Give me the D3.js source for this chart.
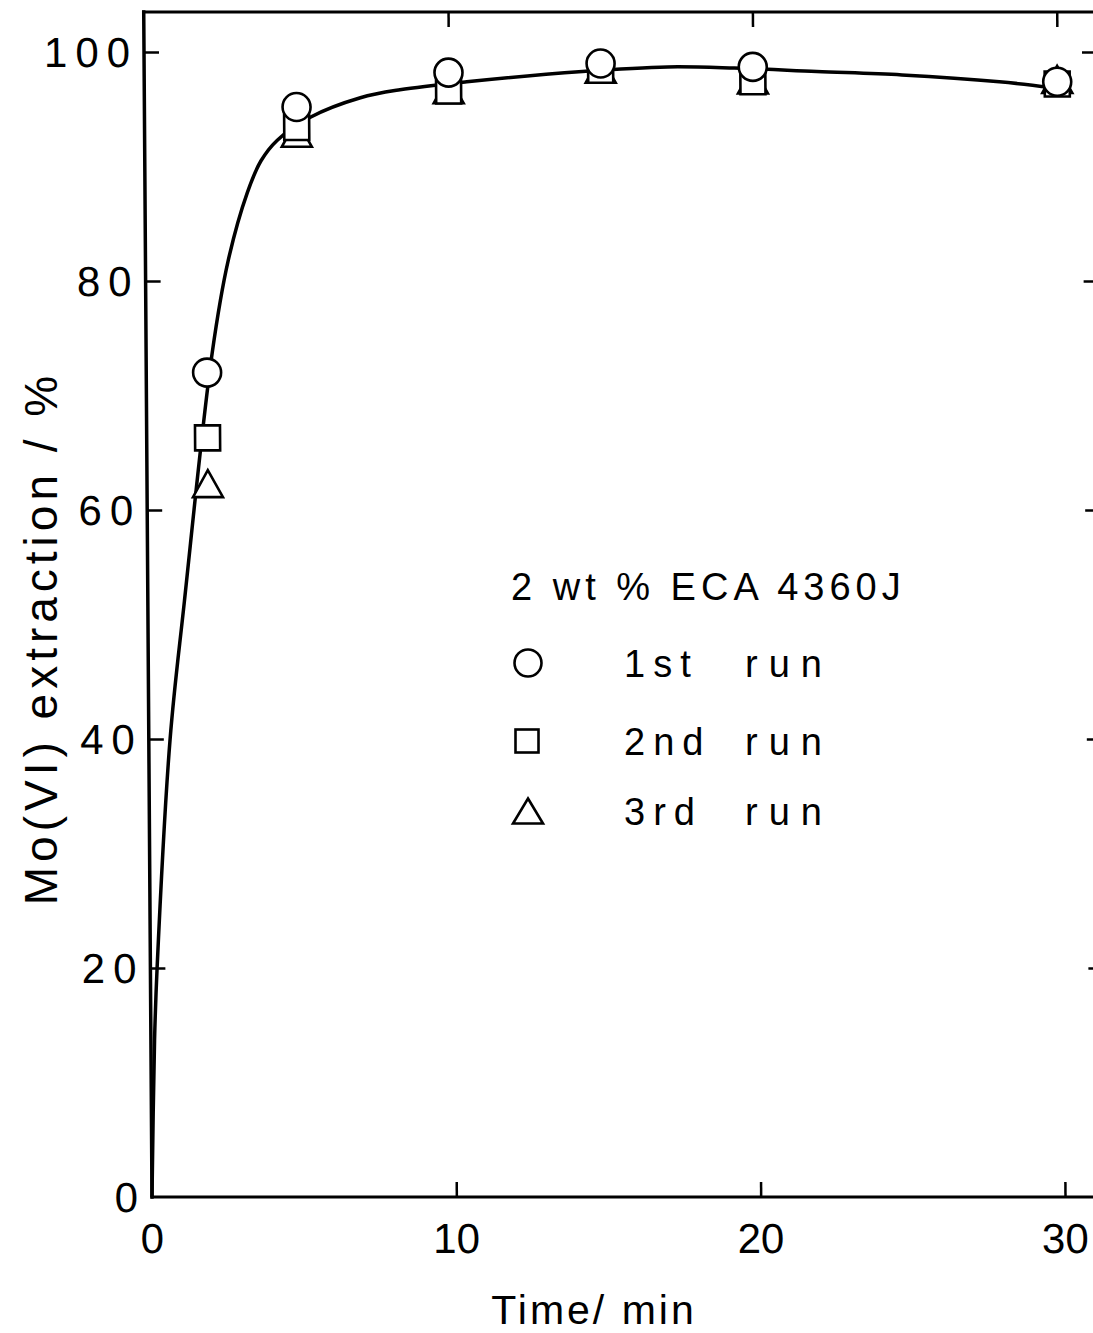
<!DOCTYPE html>
<html>
<head>
<meta charset="utf-8">
<script src="https://cdn.jsdelivr.net/npm/d3@7"></script>
<style>
  html, body { margin: 0; padding: 0; background: #fff; }
  svg { display: block; }
</style>
</head>
<body>
<script>
// Sampling times (min) and Mo(VI) extraction (%) for the three runs
const times = [2, 5, 10, 15, 20, 30];
const run1 = [72.0, 95.2, 98.2, 99.0, 98.7, 97.4];
const run2 = [66.3, 93.4, 96.6, 98.4, 97.4, 97.2];
const run3 = [62.3, 92.9, 96.7, 98.5, 97.55, 97.6];

// Hand-drawn kinetic curve through the data
const fitTimes  = [0, 0.12, 0.22, 0.70, 1.20, 2.17, 2.72, 3.36, 3.82, 4.36, 5.45, 7.1, 8.4, 10.6, 14.4, 17.2, 19.4, 22.1, 24.9, 28.1, 29.8];
const fitValues = [0, 13.7, 20.0, 40.0, 52.0, 73.7, 81.8, 87.7, 90.5, 92.3, 94.3, 96.0, 96.7, 97.4, 98.3, 98.7, 98.6, 98.3, 98.0, 97.4, 96.9];

const xTicks = [0, 10, 20, 30];
const yTicks = [0, 20, 40, 60, 80, 100];

const legendTitle = "2 wt % ECA 4360J";
const runOrdinals = ["1st", "2nd", "3rd"];
const runWord = "run";
const xTitle = "Time/ min";
const yTitle = "Mo(VI)  extraction / %";

const W = 1093, H = 1333;
const FONT = "'Liberation Sans', Arial, sans-serif";

const svg = d3.select("body").append("svg")
  .attr("width", W).attr("height", H)
  .attr("viewBox", `0 0 ${W} ${H}`);

svg.append("rect").attr("width", W).attr("height", H).attr("fill", "#fff");

const x = d3.scaleLinear().domain([0, 30]).range([152, 1065]);
const y = d3.scaleLinear().domain([0, 100]).range([1197, 52]);
const frameRight = 1112, frameTop = 12;

// plotting area, slightly sheared like the printed figure
const plot = svg.append("g")
  .attr("transform", `translate(0,${y(0)}) skewX(0.4) translate(0,${-y(0)})`);

const tickLen = 15;
const axisStroke = 3;

function styleAxis(g) {
  g.select(".domain").remove();
  g.selectAll(".tick line").attr("stroke", "#000").attr("stroke-width", 2.5);
}

// frame lines
const frame = [
  [x(0), y(0), frameRight, y(0)],
  [x(0), frameTop, frameRight, frameTop],
  [x(0), frameTop, x(0), y(0)],
  [frameRight, frameTop, frameRight, y(0)]
];
plot.append("g").selectAll("line").data(frame).join("line")
  .attr("x1", d => d[0]).attr("y1", d => d[1]).attr("x2", d => d[2]).attr("y2", d => d[3])
  .attr("stroke", "#000").attr("stroke-width", (d, i) => i === 2 ? axisStroke + 0.5 : axisStroke)
  .attr("stroke-linecap", "square");

// inward ticks on all four sides
plot.append("g")
  .attr("transform", `translate(0,${y(0)})`)
  .call(d3.axisBottom(x).tickValues(xTicks.filter(d => d > 0)).tickSizeInner(-tickLen).tickSizeOuter(0).tickFormat(""))
  .call(styleAxis);
plot.append("g")
  .attr("transform", `translate(0,${frameTop})`)
  .call(d3.axisTop(x).tickValues(xTicks.filter(d => d > 0)).tickSizeInner(-tickLen).tickSizeOuter(0).tickFormat(""))
  .call(styleAxis);
plot.append("g")
  .attr("transform", `translate(${x(0)},0)`)
  .call(d3.axisLeft(y).tickValues(yTicks.filter(d => d > 0)).tickSizeInner(-tickLen).tickSizeOuter(0).tickFormat(""))
  .call(styleAxis);
plot.append("g")
  .attr("transform", `translate(${frameRight},0)`)
  .call(d3.axisRight(y).tickValues(yTicks.filter(d => d > 0)).tickSizeInner(-22).tickSizeOuter(0).tickFormat(""))
  .call(styleAxis);

// tick labels
plot.append("g").selectAll("text").data(xTicks).join("text")
  .attr("x", d => x(d)).attr("y", 1253)
  .attr("text-anchor", "middle")
  .attr("font-family", FONT).attr("font-size", 42)
  .text(d => d);

const yLabSpacing = 8;
plot.append("g").selectAll("text").data(yTicks).join("text")
  .attr("x", 138 + yLabSpacing).attr("y", d => y(d) + 15)
  .attr("text-anchor", "end")
  .attr("font-family", FONT).attr("font-size", 42)
  .attr("letter-spacing", yLabSpacing)
  .text(d => d);

// fitted curve
const line = d3.line()
  .x((d, i) => x(fitTimes[i]))
  .y(d => y(d))
  .curve(d3.curveCatmullRom.alpha(0.5));
plot.append("path")
  .attr("d", line(fitValues))
  .attr("fill", "none").attr("stroke", "#000").attr("stroke-width", 3.5)
  .attr("stroke-linejoin", "round");

// marker shapes
const mStroke = 2.6;
function square(g, cx, cy, s) {
  g.append("rect").attr("x", cx - s / 2).attr("y", cy - s / 2).attr("width", s).attr("height", s)
    .attr("fill", "#fff").attr("stroke", "#000").attr("stroke-width", mStroke);
}
function triangle(g, cx, cy, w, h) {
  g.append("path")
    .attr("d", `M${cx},${cy - h / 2}L${cx + w / 2},${cy + h / 2}L${cx - w / 2},${cy + h / 2}Z`)
    .attr("fill", "#fff").attr("stroke", "#000").attr("stroke-width", mStroke).attr("stroke-linejoin", "miter");
}
function circle(g, cx, cy, r) {
  g.append("circle").attr("cx", cx).attr("cy", cy).attr("r", r)
    .attr("fill", "#fff").attr("stroke", "#000").attr("stroke-width", mStroke);
}

const marks = plot.append("g");
times.forEach((t, i) => triangle(marks, x(t), y(run3[i]), 30, 27));
times.forEach((t, i) => square(marks, x(t), y(run2[i]), 25));
times.forEach((t, i) => circle(marks, x(t), y(run1[i]), 14));

// legend
const leg = svg.append("g").attr("font-family", FONT).attr("font-size", 38);
leg.append("text").attr("x", 511).attr("y", 600).attr("letter-spacing", 5).text(legendTitle);
const rowY = [663, 741, 811];
circle(leg, 528, rowY[0], 13.5);
square(leg, 527, rowY[1], 23);
triangle(leg, 528, rowY[2], 30, 25);
runOrdinals.forEach((r, i) => {
  leg.append("text").attr("x", 624).attr("y", rowY[i] + 14).attr("letter-spacing", 8).text(r);
  leg.append("text").attr("x", 745).attr("y", rowY[i] + 14).attr("letter-spacing", 11).text(runWord);
});

// axis titles
svg.append("text")
  .attr("x", 594).attr("y", 1324)
  .attr("text-anchor", "middle")
  .attr("font-family", FONT).attr("font-size", 41).attr("letter-spacing", 3)
  .text(xTitle);
svg.append("text")
  .attr("transform", "translate(57,638) rotate(-90)")
  .attr("text-anchor", "middle")
  .attr("font-family", FONT).attr("font-size", 46).attr("letter-spacing", 5)
  .text(yTitle);
</script>
</body>
</html>
